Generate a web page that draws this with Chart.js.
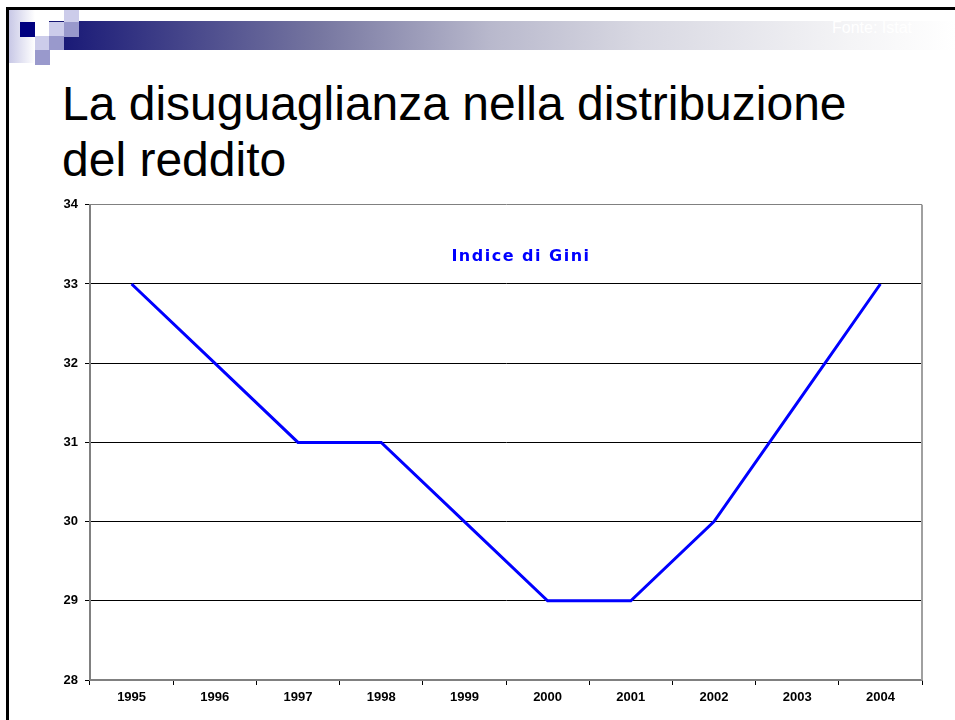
<!DOCTYPE html>
<html>
<head>
<meta charset="utf-8">
<script src="https://cdn.jsdelivr.net/npm/chart.js@4/dist/chart.umd.min.js"></script>
<style>
  body { margin: 0; width: 955px; height: 720px; background: #fff; overflow: hidden; position: relative; font-family: "Liberation Sans", Arial, sans-serif; }
  .frame { position: absolute; left: 6px; top: 7px; width: 960px; height: 720px; border-left: 3px solid #000; border-top: 3px solid #000; }
  .sq { position: absolute; }
  .bar { position: absolute; left: 49px; top: 21px; width: 906px; height: 29px;
    background: linear-gradient(to right, #141470 0px, #1c1c78 20px, #7676a0 270px, #b8b8cc 440px, #d8d8e2 590px, #f4f4f6 800px, #ffffff 906px); }
  .fonte { position: absolute; left: 832px; top: 19px; color: #fff; font-size: 16px; }
  .title { position: absolute; left: 62px; top: 76px; font-size: 48px; line-height: 56px; color: #000; }
  #wrap { position: absolute; left: 0; top: 190px; width: 930px; height: 530px; }
</style>
</head>
<body>
<div class="frame"></div>
<div class="sq" style="left:9px;top:10px;width:26px;height:53px;background:linear-gradient(to right,#c8c8e6,#ffffff);"></div>
<div class="bar"></div>
<div class="sq" style="left:20px;top:22px;width:15px;height:15px;background:#000080;"></div>
<div class="sq" style="left:35px;top:36px;width:14px;height:14px;background:#ccccea;"></div>
<div class="sq" style="left:35px;top:50px;width:15px;height:15px;background:#9999cc;"></div>
<div class="sq" style="left:49px;top:22px;width:15px;height:14px;background:#ccccea;"></div>
<div class="sq" style="left:49px;top:36px;width:15px;height:14px;background:#9999cc;"></div>
<div class="sq" style="left:64px;top:10px;width:15px;height:12px;background:#ccccea;"></div>
<div class="sq" style="left:64px;top:22px;width:15px;height:15px;background:#9999cc;"></div>
<div class="fonte">Fonte: Istat</div>
<div class="title">La disuguaglianza nella distribuzione<br>del reddito</div>
<div id="wrap"><canvas id="gini"></canvas></div>
<script>
// dati: indice di Gini per anno
const anni = ['1995', '1996', '1997', '1998', '1999', '2000', '2001', '2002', '2003', '2004'];
const gini = [33, 32, 31, 31, 30, 29, 29, 30, 31.5, 33];
const yMin = 28, yMax = 34;

// bordo grigio a destra dell'area del grafico + titolo interno
const plotBox = {
    id: 'plotBox',
    afterDraw(chart) {
        const ctx = chart.ctx, a = chart.chartArea;
        ctx.save();
        ctx.strokeStyle = '#a0a0a0';
        ctx.lineWidth = 2;
        ctx.beginPath();
        ctx.moveTo(a.right, a.top);
        ctx.lineTo(a.right, a.bottom);
        ctx.stroke();
        ctx.fillStyle = '#0000ff';
        ctx.font = 'bold 16px "DejaVu Sans", sans-serif';
        ctx.letterSpacing = '1.5px';
        ctx.textAlign = 'center';
        ctx.textBaseline = 'middle';
        ctx.fillText('Indice di Gini', (a.left + a.right) / 2 + 15, a.top + 52);
        ctx.restore();
    }
};

const tickFont = { family: '"Liberation Sans", Arial', size: 13, weight: 'bold' };

const chart = new Chart(document.getElementById('gini'), {
    type: 'line',
    data: {
        labels: anni,
        datasets: [{
            label: 'Indice di Gini',
            data: gini,
            borderColor: '#0000ff',
            borderWidth: 3,
            pointRadius: 0,
            tension: 0,
            fill: false
        }]
    },
    options: {
        responsive: true,
        maintainAspectRatio: false,
        animation: false,
        layout: { padding: { top: 12, right: 8, left: 0, bottom: 0 } },
        plugins: {
            legend: { display: false },
            tooltip: { enabled: false }
        },
        scales: {
            x: {
                offset: true,
                afterFit(scale) { scale.height = 40; },
                grid: {
                    offset: true,
                    drawOnChartArea: false,
                    drawTicks: true,
                    tickLength: 5,
                    color: '#000'
                },
                border: { color: '#808080', width: 2 },
                ticks: { color: '#000', padding: 5, font: tickFont }
            },
            y: {
                min: yMin,
                max: yMax,
                afterFit(scale) { scale.width = 90; },
                ticks: { stepSize: 1, color: '#000', padding: 7, font: tickFont },
                grid: {
                    color: function(c) { return c.tick.value === yMax ? '#808080' : '#000'; },
                    lineWidth: 1,
                    tickLength: 5,
                    tickColor: '#000'
                },
                border: { color: '#808080', width: 2 }
            }
        }
    },
    plugins: [plotBox]
});
</script>
</body>
</html>
